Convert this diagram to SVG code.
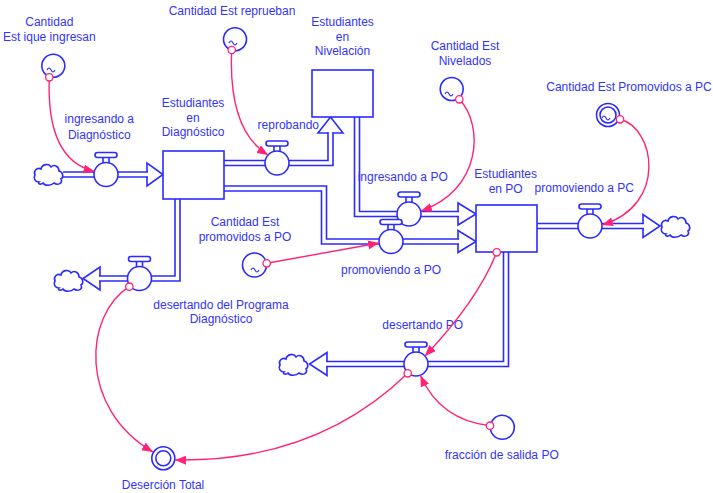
<svg xmlns="http://www.w3.org/2000/svg" width="713" height="493" viewBox="0 0 713 493">
<defs>
<style>
  text { font-family: "Liberation Sans", Arial, sans-serif; font-size: 12px; fill: #3333ff; text-anchor: middle; }
  .stock { fill: #fff; stroke: #2b2bff; stroke-width: 1.6; }
  .pipe-o { fill: none; stroke: #2b2bff; stroke-width: 6.6; stroke-linejoin: miter; }
  .pipe-i { fill: none; stroke: #fff; stroke-width: 3.4; stroke-linejoin: miter; }
  .head { fill: #fff; stroke: #2b2bff; stroke-width: 1.6; stroke-linejoin: miter; }
  .aux { fill: #fff; stroke: #2b2bff; stroke-width: 1.6; }
  .tilde { fill: none; stroke: #2b2bff; stroke-width: 1.1; }
  .link { fill: none; stroke: #ff2277; stroke-width: 1.4; marker-end: url(#arr); }
  .tail { fill: #fff; stroke: #ff2277; stroke-width: 1.3; }
</style>
<marker id="arr" markerUnits="userSpaceOnUse" markerWidth="12" markerHeight="10" refX="11" refY="4.5" orient="auto">
  <path d="M0,0 L11,4.5 L0,9 Z" fill="#ff2277"/>
</marker>
<!-- flow valve: handle, stem and body -->
<g id="valve">
  <rect x="-3" y="-17.5" width="6" height="6.5" class="aux"/>
  <rect x="-11" y="-22" width="22" height="5" rx="2.5" class="aux"/>
  <circle r="12" class="aux"/>
</g>
<!-- source / sink cloud -->
<path id="cloud" class="aux" d="M6,20 C2,20 0,16 2,13 C0,9 4,5 8,7 C9,2 16,1 18,5 C21,2 26,4 26,9 C30,10 31,15 28,17 C30,21 25,24 21,21 C18,24 12,24 10,21 C8,23 4,22 6,20 Z"/>
<path id="tilde" class="tilde" d="M-4,0 c1.3,-2.6 2.7,-2.6 4,0 s2.7,2.6 4,0"/>
</defs>

<rect width="713" height="493" fill="#fff"/>

<g id="connectors">
  <!-- flow arrowheads -->
  <polygon class="head" points="147,163 147,186 163,174.5"/>
  <polygon class="head" points="318,133 343,133 330.5,117"/>
  <polygon class="head" points="458,203 458,225 476,214"/>
  <polygon class="head" points="458,230.5 458,252.5 476,241.5"/>
  <polygon class="head" points="100,267 100,290 83,278.5"/>
  <polygon class="head" points="643,214.5 643,237.5 660,226"/>
  <polygon class="head" points="327,352.5 327,375.5 309.5,364"/>
  <!-- flow pipes (double line) -->
  <g class="pipes">
    <path class="pipe-o" d="M63,174.5 H148"/><path class="pipe-i" d="M63,174.5 H148"/>
    <path class="pipe-o" d="M224,163 H330.5 V132"/><path class="pipe-i" d="M224,163 H330.5 V132"/>
    <path class="pipe-o" d="M357,117 V214 H459"/><path class="pipe-i" d="M357,117 V214 H459"/>
    <path class="pipe-o" d="M224,188.5 H324 V241.5 H459"/><path class="pipe-i" d="M224,188.5 H324 V241.5 H459"/>
    <path class="pipe-o" d="M177.5,199 V278.5 H99"/><path class="pipe-i" d="M177.5,199 V278.5 H99"/>
    <path class="pipe-o" d="M537,226 H644"/><path class="pipe-i" d="M537,226 H644"/>
    <path class="pipe-o" d="M506,252 V364 H326"/><path class="pipe-i" d="M506,252 V364 H326"/>
  </g>
</g>

<!-- clouds -->
<g id="cloud-in-diag"><use href="#cloud" x="33" y="162"/></g>
<g id="cloud-out-diag"><use href="#cloud" x="53" y="268"/></g>
<g id="cloud-out-po"><use href="#cloud" x="278" y="352"/></g>
<g id="cloud-out-pc"><use href="#cloud" x="660" y="214"/></g>

<!-- stocks -->
<g id="stock-diagnostico">
  <rect class="stock" x="163" y="151" width="61" height="48"/>
  <text x="193" y="107">Estudiantes</text>
  <text x="193" y="121.5">en</text>
  <text x="193" y="136">Diagnóstico</text>
</g>
<g id="stock-nivelacion">
  <rect class="stock" x="312" y="70" width="61" height="47"/>
  <text x="342.5" y="26">Estudiantes</text>
  <text x="342.5" y="40.5">en</text>
  <text x="342.5" y="55">Nivelación</text>
</g>
<g id="stock-po">
  <rect class="stock" x="476" y="205" width="61" height="47"/>
  <text x="505.7" y="178.3">Estudiantes</text>
  <text x="505.7" y="192.8">en PO</text>
</g>

<!-- flows -->
<g id="flow-ingresando-diag">
  <use href="#valve" x="106" y="174.5"/>
  <text x="99.3" y="123.3">ingresando a</text>
  <text x="99.3" y="138.6">Diagnóstico</text>
</g>
<g id="flow-reprobando">
  <use href="#valve" x="277" y="163"/>
  <text x="288.3" y="129.3">reprobando</text>
</g>
<g id="flow-ingresando-po">
  <use href="#valve" x="409" y="214"/>
  <text x="402.7" y="181">ingresando a PO</text>
</g>
<g id="flow-promoviendo-po">
  <use href="#valve" x="391" y="241.5"/>
  <text x="391" y="273.6">promoviendo a PO</text>
</g>
<g id="flow-desertando-diag">
  <use href="#valve" x="139.5" y="278.5"/>
  <text x="221" y="308.6">desertando del Programa</text>
  <text x="221" y="323.3">Diagnóstico</text>
</g>
<g id="flow-promoviendo-pc">
  <use href="#valve" x="590" y="226"/>
  <text x="584.3" y="192">promoviendo a PC</text>
</g>
<g id="flow-desertando-po">
  <use href="#valve" x="416" y="364"/>
  <text x="422.7" y="329.3">desertando PO</text>
</g>

<!-- auxiliaries -->
<g id="aux-ingresan">
  <circle class="aux" cx="53.3" cy="65.7" r="11.5"/>
  <use href="#tilde" x="51" y="70"/>
  <text x="49.3" y="26">Cantidad</text>
  <text x="49.3" y="40.5">Est ique ingresan</text>
</g>
<g id="aux-reprueban">
  <circle class="aux" cx="235" cy="39.3" r="11.5"/>
  <use href="#tilde" x="233" y="43"/>
  <text x="232" y="15">Cantidad Est reprueban</text>
</g>
<g id="aux-nivelados">
  <circle class="aux" cx="451.7" cy="89" r="11.5"/>
  <use href="#tilde" x="449" y="94"/>
  <text x="465" y="50.3">Cantidad Est</text>
  <text x="465" y="65">Nivelados</text>
</g>
<g id="aux-promovidos-pc">
  <circle class="aux" cx="608" cy="115" r="11.5"/>
  <circle class="aux" cx="608" cy="115" r="8"/>
  <use href="#tilde" x="606" y="118"/>
  <text x="629" y="91">Cantidad Est Promovidos a PC</text>
</g>
<g id="aux-promovidos-po">
  <circle class="aux" cx="254.5" cy="265" r="12"/>
  <use href="#tilde" x="255" y="270"/>
  <text x="245" y="226">Cantidad Est</text>
  <text x="245" y="241">promovidos a PO</text>
</g>
<g id="aux-fraccion">
  <circle class="aux" cx="502.3" cy="427.3" r="12"/>
  <text x="501.7" y="459.3">fracción de salida PO</text>
</g>
<g id="aux-desercion-total">
  <circle class="aux" cx="163.3" cy="458.3" r="11.5"/>
  <circle class="aux" cx="163.3" cy="458.3" r="7.5"/>
  <text x="163" y="488.6">Deserción Total</text>
</g>

<!-- information links -->
<g id="links">
  <path class="link" d="M49.3,77.3 Q46,160 94.5,171.5"/>
  <path class="link" d="M231.7,50 Q228,130 268,155"/>
  <path class="link" d="M459.3,99.3 C484,125 482,190 421,211"/>
  <path class="link" d="M620,119.3 C655,128 668,205 602,225"/>
  <path class="link" d="M266.7,263.3 L379,243"/>
  <path class="link" d="M490,425.7 Q440,420 420.5,375.5"/>
  <path class="link" d="M496.7,252.3 Q478,300 425,356"/>
  <path class="link" d="M129.3,286.7 C84,315 78,408 153,452"/>
  <path class="link" d="M407.7,373.3 C370,410 300,462 175,460"/>
  <circle class="tail" cx="49.3" cy="77.3" r="3.7"/>
  <circle class="tail" cx="231.7" cy="50" r="3.7"/>
  <circle class="tail" cx="459.3" cy="99.3" r="3.7"/>
  <circle class="tail" cx="620" cy="119.3" r="3.7"/>
  <circle class="tail" cx="266.7" cy="263.3" r="3.7"/>
  <circle class="tail" cx="490" cy="425.7" r="3.7"/>
  <circle class="tail" cx="496.7" cy="252.3" r="3.7"/>
  <circle class="tail" cx="129.3" cy="286.7" r="3.7"/>
  <circle class="tail" cx="407.7" cy="373.3" r="3.7"/>
</g>
</svg>
